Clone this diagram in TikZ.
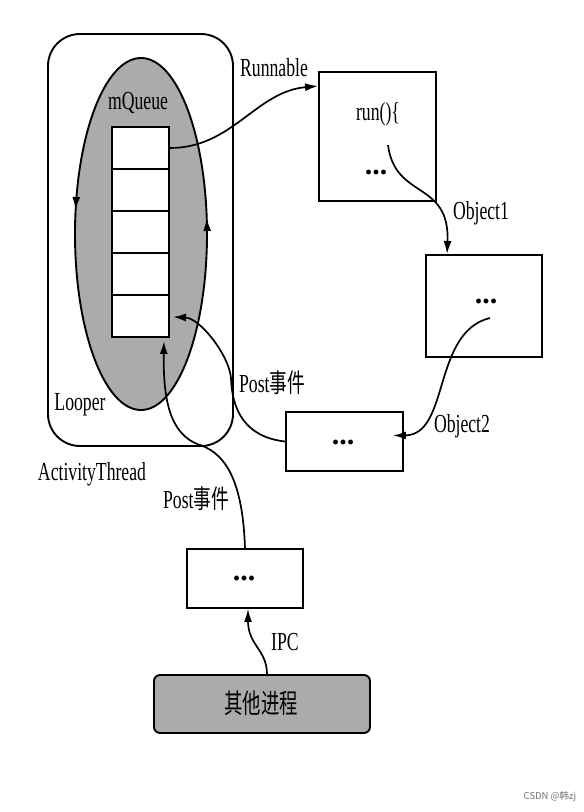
\documentclass[tikz,border=0pt]{standalone}
\usepackage{fontspec}
\setmainfont{Liberation Serif}
\newfontfamily\cjk{Noto Sans CJK SC}
\usetikzlibrary{calc, arrows.meta, decorations.markings}

\colorlet{queuegray}{black!33}

\begin{document}
\begin{tikzpicture}[x=1pt, y=-1pt,
        >={Latex[length=13pt, width=8pt]},
        lbl/.style={font=\fontsize{26}{30}\selectfont, xscale=0.68, inner sep=1pt},
        frame/.style={draw, line width=1.9pt, inner sep=0pt, minimum width=117pt, minimum height=59pt},
        cell/.style={draw, fill=white, line width=1.9pt, inner sep=0pt, minimum width=57pt, minimum height=42pt},
        dots/.style={font=\bfseries\fontsize{30}{32}\selectfont, inner sep=1pt},
        flow/.style={line width=1.7pt, ->},
        ]
    \useasboundingbox (0,0) rectangle (584,812);

    % ActivityThread with its Looper
    \node (thread) at (140.5, 240) [draw, line width=1.9pt, rounded corners=32pt, minimum width=185pt, minimum height=412pt] {};
    \draw [line width=1.9pt, fill=queuegray, postaction={decorate},
        decoration={markings, mark=at position 0.02 with {\arrow{>}}, mark=at position 0.47 with {\arrow{>}}}]
        (141, 234) ellipse [x radius=66pt, y radius=176pt];
    \node (mq) at (138, 103) [lbl] {mQueue};
    \node (looper) at (80, 405) [lbl] {Looper};
    \node (at) at (92, 474) [lbl] {ActivityThread};

    \node (c1) at (140.5, 148) [cell] {};
    \node (c2) at (140.5, 190) [cell] {};
    \node (c3) at (140.5, 232) [cell] {};
    \node (c4) at (140.5, 274) [cell] {};
    \node (c5) at (140.5, 316) [cell] {};

    % boxes
    \node (run) at (377.5, 136.5) [frame, minimum height=129pt] {};
    \node (runtxt) at (378, 114) [lbl] {run()\{};
    \node (rundots) at (376, 172) [dots] {...};
    \coordinate (runout) at (388, 145);

    \node (obj1) at (484, 306) [frame, minimum width=116pt, minimum height=102pt] {};
    \node (obj1dots) at (486, 301) [dots] {...};
    \coordinate (obj1out) at (490, 318);

    \node (post) at (344.5, 441.5) [frame] {};
    \node (postdots) at (343, 442) [dots] {...};

    \node (ipc) at (245, 578.5) [frame, minimum width=116pt] {};
    \node (ipcdots) at (244, 578) [dots] {...};

    \node (other) at (262, 704) [draw, line width=1.9pt, fill=queuegray, rounded corners=6pt, minimum width=216pt, minimum height=58pt] {};
    \node (othertxt) at (261, 703) [lbl, font=\cjk\fontsize{27}{30}\selectfont] {其他进程};

    % labels
    \node (lrun) at (274, 68) [lbl] {Runnable};
    \node (lobj1) at (481, 213) [lbl] {Object1};
    \node (lobj2) at (462, 426) [lbl] {Object2};
    \node (lpost1) at (272, 383) [lbl] {Post{\cjk 事件}};
    \node (lpost2) at (196, 499) [lbl] {Post{\cjk 事件}};
    \node (lipc) at (285, 642) [lbl] {IPC};

    % connectors
    \draw [flow] (c1.east) to [out=0, in=185] ($(run.north west)+(0, 15)$);
    \draw [flow] (runout) .. controls (395, 200) and (450, 180) .. ($(obj1.north west)+(22, 0)$);
    \draw [flow] (obj1out) .. controls (432, 332) and (450, 435) .. ($(post.east)+(-11, -6)$);
    \draw [flow] (post.west) .. controls (245, 437) and (232, 410) .. (231, 378)
        .. controls (229, 355) and (200, 318) .. ($(c5.east)+(3, 1)$);
    \draw [flow] (ipc.north) .. controls (243, 490) and (230, 455) .. (200, 445)
        .. controls (170, 435) and (163, 400) .. ($(c5.south east)+(-6, 3)$);
    \draw [flow] ($(other.north)+(5, 0)$) .. controls (267, 650) and (248, 645) .. ($(ipc.south)+(3, 0)$);

    \node (mark) at (550, 797) [text=black!55, font=\cjk\fontsize{9.5}{11}\selectfont] {CSDN @韩zj};
\end{tikzpicture}
\end{document}
